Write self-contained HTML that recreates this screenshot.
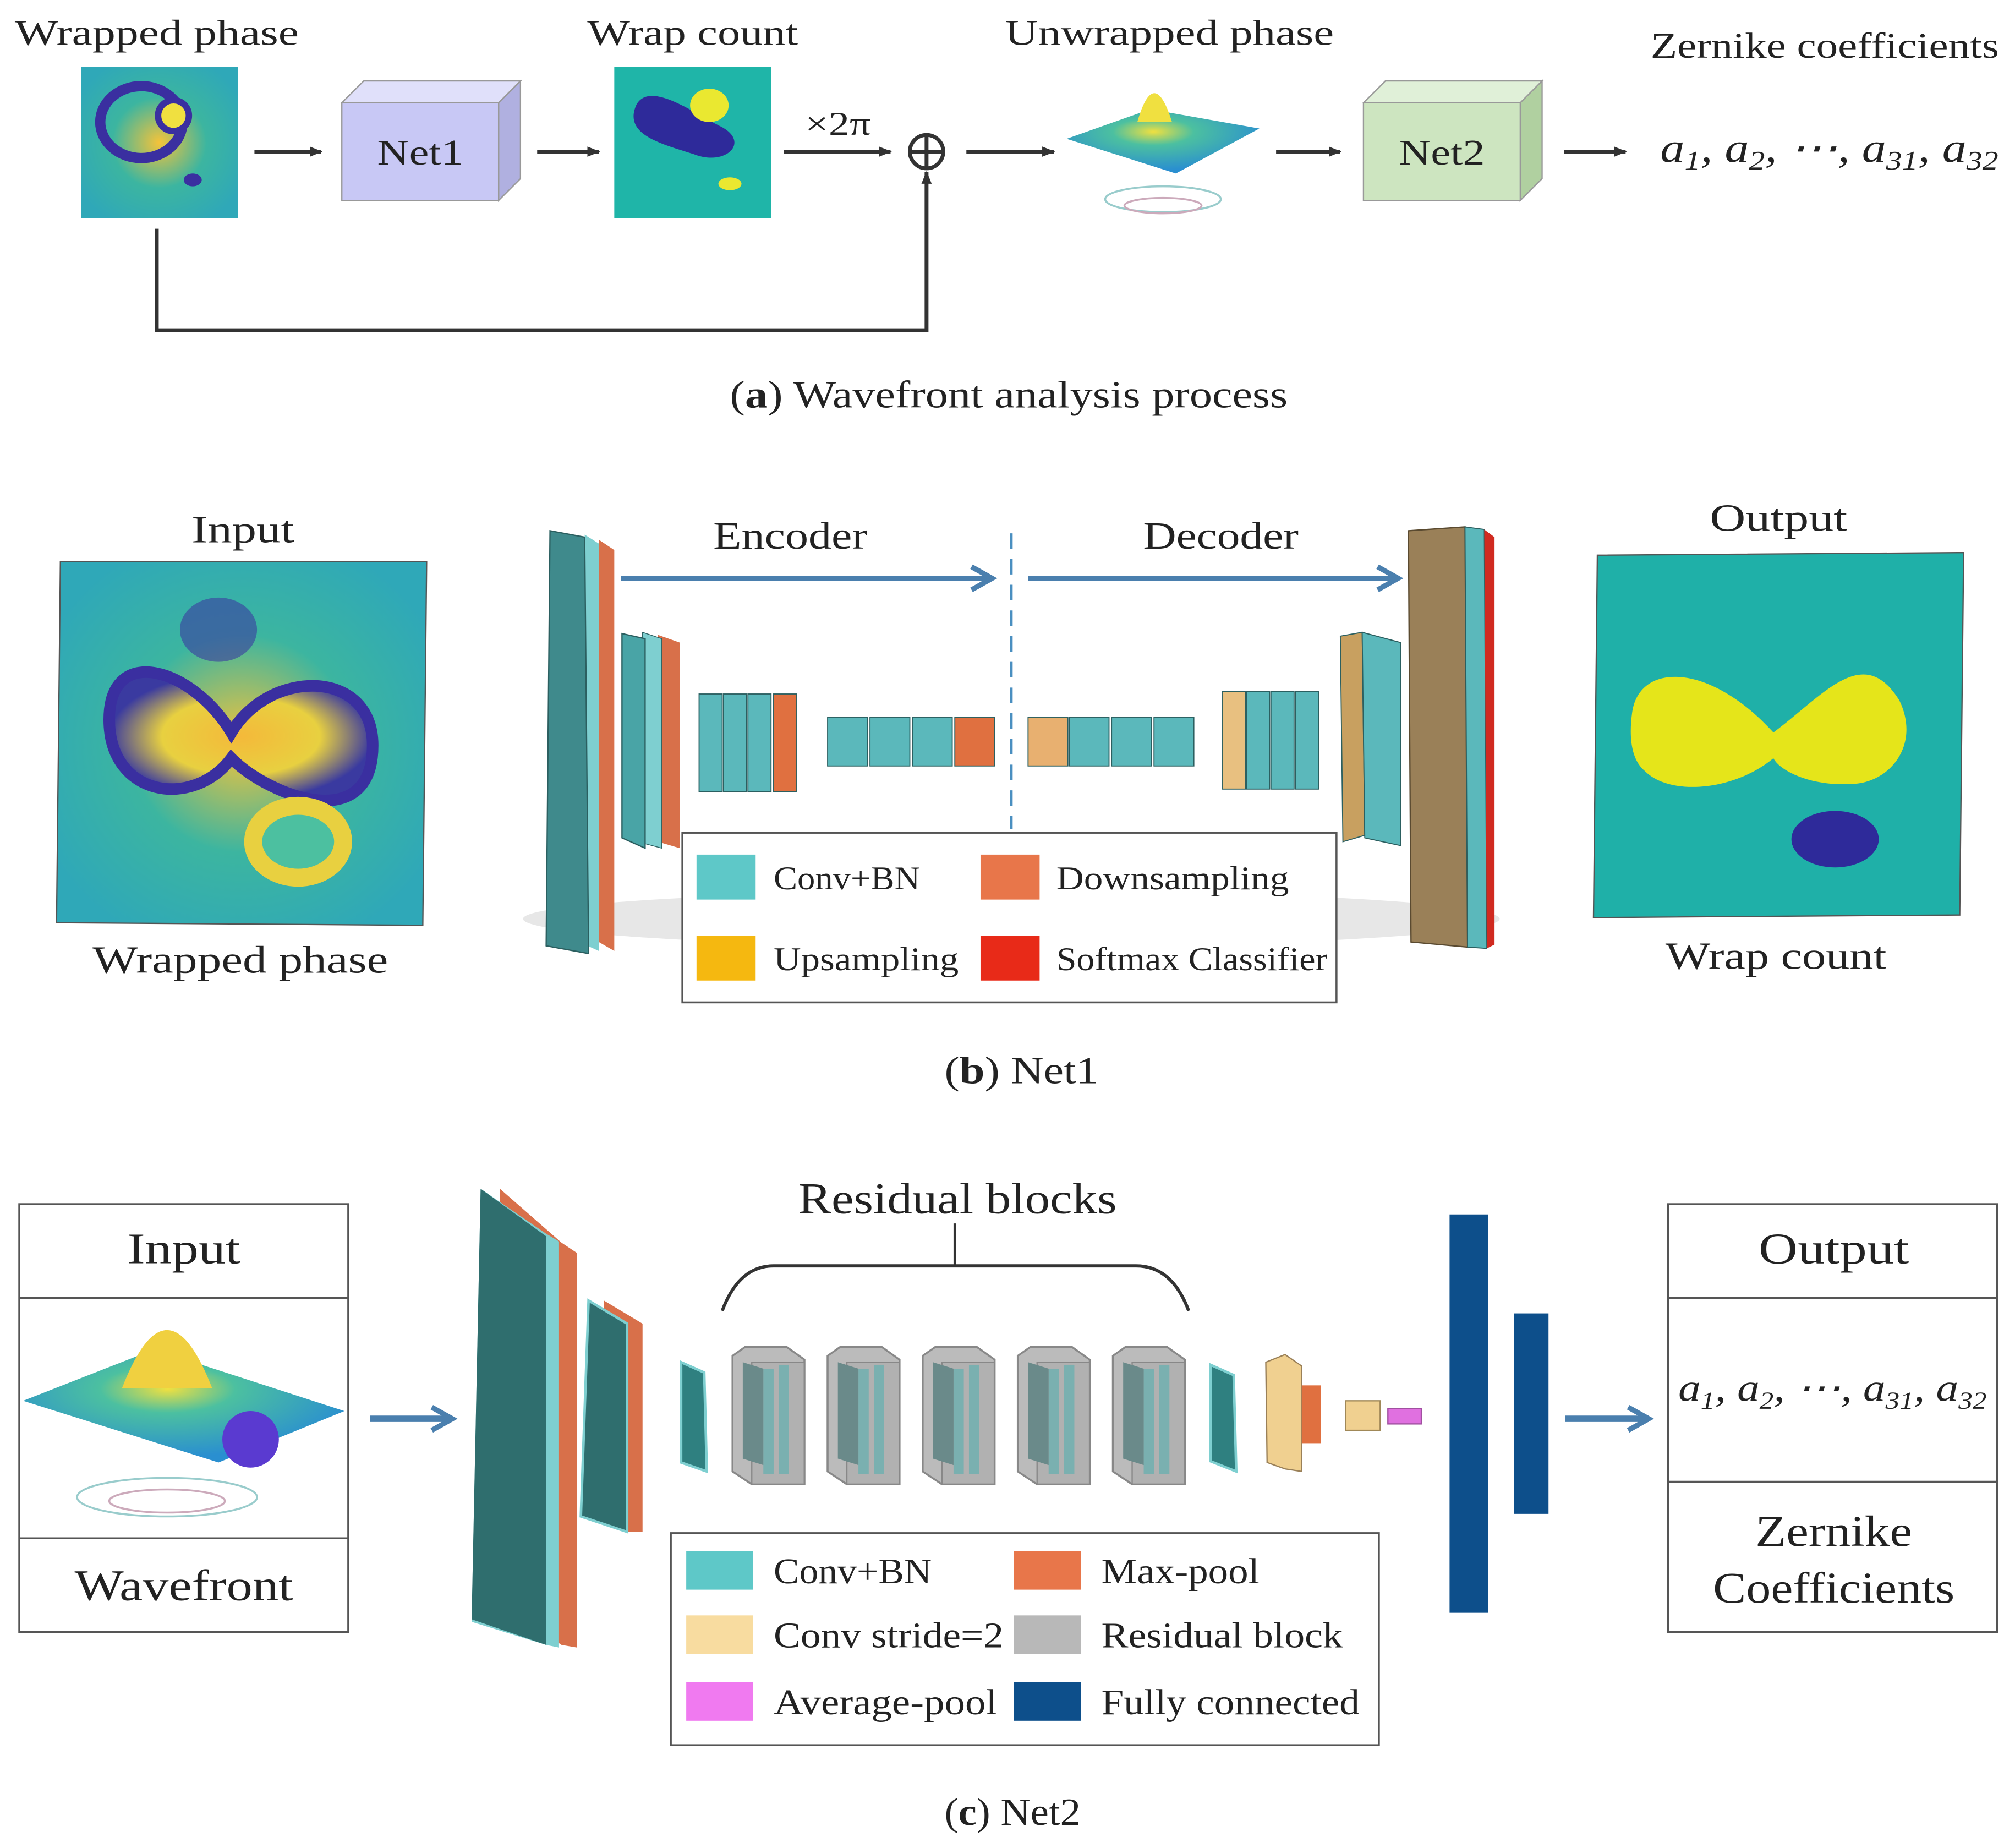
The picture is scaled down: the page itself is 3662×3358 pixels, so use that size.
<!DOCTYPE html>
<html><head><meta charset="utf-8"><style>
html,body{margin:0;padding:0;background:#fff}
svg{display:block}
text{font-family:"Liberation Serif",serif;fill:#222}
</style></head><body>
<svg width="3662" height="3358" viewBox="0 0 1568 1438" preserveAspectRatio="none" xmlns="http://www.w3.org/2000/svg">
<defs>
<marker id="ah" markerWidth="10" markerHeight="10" refX="9" refY="5" orient="auto" markerUnits="userSpaceOnUse"><path d="M0,1 L10,5 L0,9 z" fill="#333"/></marker>
<marker id="bh" markerWidth="22" markerHeight="22" refX="18" refY="11" orient="auto" markerUnits="userSpaceOnUse"><path d="M2,2 L18,11 L2,20" fill="none" stroke="#4a7fae" stroke-width="4"/></marker>
<radialGradient id="wp" cx="50%" cy="50%" r="60%"><stop offset="0" stop-color="#f5c33a"/><stop offset="0.5" stop-color="#3cb5a0"/><stop offset="1" stop-color="#2fa8b8"/></radialGradient>
<radialGradient id="surf" cx="45%" cy="35%" r="60%"><stop offset="0" stop-color="#f0e040"/><stop offset="0.35" stop-color="#4cc0a0"/><stop offset="1" stop-color="#2a8fd0"/></radialGradient>
<radialGradient id="yl" cx="50%" cy="50%" r="50%"><stop offset="0" stop-color="#f4b93a"/><stop offset="0.6" stop-color="#e8d040"/><stop offset="1" stop-color="#3a3aa0"/></radialGradient>
</defs>

<!-- (a) -->
<text x="122" y="35" font-size="28" text-anchor="middle" textLength="221" lengthAdjust="spacingAndGlyphs">Wrapped phase</text>
<rect x="63" y="52" width="122" height="118" fill="url(#wp)"/>
<ellipse cx="110" cy="95" rx="32" ry="28" fill="none" stroke="#3a2fa0" stroke-width="8"/>
<ellipse cx="135" cy="90" rx="12" ry="12" fill="#f0e040" stroke="#3a2fa0" stroke-width="5"/>
<ellipse cx="150" cy="140" rx="7" ry="5" fill="#3a2fa0"/>
<line x1="198" y1="118" x2="250" y2="118" stroke="#333" stroke-width="3" marker-end="url(#ah)"/>
<polygon points="266,80 283,63 405,63 388,80" fill="#e0e0fa" stroke="#999"/>
<polygon points="388,80 405,63 405,139 388,156" fill="#b0b0e0" stroke="#999"/>
<rect x="266" y="80" width="122" height="76" fill="#c8c8f5" stroke="#999"/>
<text x="327" y="128" font-size="28" text-anchor="middle" textLength="67" lengthAdjust="spacingAndGlyphs">Net1</text>
<line x1="418" y1="118" x2="466" y2="118" stroke="#333" stroke-width="3" marker-end="url(#ah)"/>
<text x="539" y="35" font-size="28" text-anchor="middle" textLength="164" lengthAdjust="spacingAndGlyphs">Wrap count</text>
<rect x="478" y="52" width="122" height="118" fill="#1fb5a8"/>
<path d="M495,82 C505,62 540,88 560,98 C585,110 565,130 540,120 C515,112 485,105 495,82z" fill="#2e2a9a"/>
<ellipse cx="552" cy="82" rx="15" ry="13" fill="#eae830"/>
<ellipse cx="568" cy="143" rx="9" ry="5" fill="#eae830"/>
<line x1="610" y1="118" x2="693" y2="118" stroke="#333" stroke-width="3" marker-end="url(#ah)"/>
<text x="652" y="105" font-size="26" text-anchor="middle" textLength="51" lengthAdjust="spacingAndGlyphs">×2π</text>
<circle cx="721" cy="118" r="13" fill="#fff" stroke="#333" stroke-width="3"/>
<line x1="708" y1="118" x2="734" y2="118" stroke="#333" stroke-width="3"/>
<line x1="721" y1="105" x2="721" y2="131" stroke="#333" stroke-width="3"/>
<polyline points="122,178 122,257 721,257 721,134" fill="none" stroke="#333" stroke-width="3" marker-end="url(#ah)"/>
<line x1="752" y1="118" x2="820" y2="118" stroke="#333" stroke-width="3" marker-end="url(#ah)"/>
<text x="910" y="35" font-size="28" text-anchor="middle" textLength="256" lengthAdjust="spacingAndGlyphs">Unwrapped phase</text>
<polygon points="830,108 895,85 980,100 915,135" fill="url(#surf)"/>
<path d="M885,95 Q898,50 912,95z" fill="#f0e040"/>
<ellipse cx="905" cy="155" rx="45" ry="10" fill="none" stroke="#9cc" stroke-width="1.5"/>
<ellipse cx="905" cy="160" rx="30" ry="6" fill="none" stroke="#cab" stroke-width="1.5"/>
<line x1="993" y1="118" x2="1043" y2="118" stroke="#333" stroke-width="3" marker-end="url(#ah)"/>
<polygon points="1061,80 1078,63 1200,63 1183,80" fill="#e0f0d8" stroke="#999"/>
<polygon points="1183,80 1200,63 1200,139 1183,156" fill="#b0d0a0" stroke="#999"/>
<rect x="1061" y="80" width="122" height="76" fill="#cde5c0" stroke="#999"/>
<text x="1122" y="128" font-size="28" text-anchor="middle" textLength="67" lengthAdjust="spacingAndGlyphs">Net2</text>
<line x1="1217" y1="118" x2="1265" y2="118" stroke="#333" stroke-width="3" marker-end="url(#ah)"/>
<text x="1420" y="45" font-size="28" text-anchor="middle" textLength="271" lengthAdjust="spacingAndGlyphs">Zernike coefficients</text>
<text x="1292" y="126" font-size="32" font-style="italic" textLength="263" lengthAdjust="spacingAndGlyphs">a<tspan font-size="21" dy="6">1</tspan><tspan dy="-6">, a</tspan><tspan font-size="21" dy="6">2</tspan><tspan dy="-6">, ⋯, a</tspan><tspan font-size="21" dy="6">31</tspan><tspan dy="-6">, a</tspan><tspan font-size="21" dy="6">32</tspan></text>
<text x="785" y="317" font-size="30" text-anchor="middle" textLength="434" lengthAdjust="spacingAndGlyphs">(<tspan font-weight="bold">a</tspan>) Wavefront analysis process</text>

<!-- (b) -->
<text x="189" y="422" font-size="30" text-anchor="middle" textLength="80" lengthAdjust="spacingAndGlyphs">Input</text>
<polygon points="47,437 332,437 329,720 44,718" fill="url(#wp)" stroke="#555"/>
<path d="M85,560 C85,500 150,520 180,570 C210,520 290,520 290,580 C290,650 210,620 180,590 C150,630 85,620 85,560z" fill="url(#yl)" stroke="#3a2fa0" stroke-width="9"/>
<ellipse cx="232" cy="655" rx="35" ry="28" fill="#4cc0a0" stroke="#e8d040" stroke-width="14"/>
<ellipse cx="170" cy="490" rx="30" ry="25" fill="#3a3aa0" opacity="0.6"/>
<text x="187" y="757" font-size="30" text-anchor="middle" textLength="230" lengthAdjust="spacingAndGlyphs">Wrapped phase</text>

<ellipse cx="787" cy="715" rx="380" ry="22" fill="#ddd" opacity="0.7"/>
<polygon points="466,420 478,428 478,740 466,733" fill="#d8704a"/>
<polygon points="455,416 466,423 466,740 455,735" fill="#7ecfd0"/>
<polygon points="428,413 455,418 458,742 425,736" fill="#3f8a8c" stroke="#2b5f60"/>
<polygon points="512,494 529,500 529,660 512,655" fill="#d8704a"/>
<polygon points="500,492 515,497 515,660 500,656" fill="#7ecfd0" stroke="#2b5f60" stroke-width="0.6"/>
<polygon points="484,493 502,497 502,660 484,652" fill="#49a4a6" stroke="#2b5f60"/>
<g stroke="#2b5f60" stroke-width="0.8">
<rect x="544" y="540" width="18" height="76" fill="#5bb8bb"/><rect x="563" y="540" width="18" height="76" fill="#5bb8bb"/><rect x="582" y="540" width="18" height="76" fill="#5bb8bb"/><rect x="602" y="540" width="18" height="76" fill="#e07040"/>
<rect x="644" y="558" width="31" height="38" fill="#5bb8bb"/><rect x="677" y="558" width="31" height="38" fill="#5bb8bb"/><rect x="710" y="558" width="31" height="38" fill="#5bb8bb"/><rect x="743" y="558" width="31" height="38" fill="#e07040"/>
<rect x="800" y="558" width="31" height="38" fill="#e8b070"/><rect x="832" y="558" width="31" height="38" fill="#5bb8bb"/><rect x="865" y="558" width="31" height="38" fill="#5bb8bb"/><rect x="898" y="558" width="31" height="38" fill="#5bb8bb"/>
<rect x="951" y="538" width="18" height="76" fill="#e8c080"/><rect x="970" y="538" width="18" height="76" fill="#5bb8bb"/><rect x="989" y="538" width="18" height="76" fill="#5bb8bb"/><rect x="1008" y="538" width="18" height="76" fill="#5bb8bb"/>
</g>
<polygon points="1043,495 1060,492 1062,650 1045,655" fill="#c8a060" stroke="#2b5f60" stroke-width="0.8"/>
<polygon points="1060,492 1090,500 1090,658 1062,652" fill="#5bb8bb" stroke="#2b5f60" stroke-width="0.8"/>
<polygon points="1096,413 1140,410 1142,737 1098,733" fill="#9a8058" stroke="#5a4a30"/>
<polygon points="1140,410 1155,412 1157,738 1142,737" fill="#5bb8bb" stroke="#2b5f60" stroke-width="0.8"/>
<polygon points="1155,412 1163,418 1163,735 1157,738" fill="#d02a20"/>
<line x1="483" y1="450" x2="772" y2="450" stroke="#4a7fae" stroke-width="4" marker-end="url(#bh)"/>
<line x1="800" y1="450" x2="1088" y2="450" stroke="#4a7fae" stroke-width="4" marker-end="url(#bh)"/>
<text x="615" y="427" font-size="30" text-anchor="middle" textLength="120" lengthAdjust="spacingAndGlyphs">Encoder</text>
<text x="950" y="427" font-size="30" text-anchor="middle" textLength="121" lengthAdjust="spacingAndGlyphs">Decoder</text>
<line x1="787" y1="415" x2="787" y2="645" stroke="#4a8fc0" stroke-width="2" stroke-dasharray="12,8"/>
<rect x="531" y="648" width="509" height="132" fill="#fff" stroke="#555" stroke-width="1.5"/>
<rect x="542" y="665" width="46" height="35" fill="#5ec8c8"/><text x="602" y="692" font-size="26" textLength="114" lengthAdjust="spacingAndGlyphs">Conv+BN</text>
<rect x="763" y="665" width="46" height="35" fill="#e8764a"/><text x="822" y="692" font-size="26" textLength="181" lengthAdjust="spacingAndGlyphs">Downsampling</text>
<rect x="542" y="728" width="46" height="35" fill="#f5b810"/><text x="602" y="755" font-size="26" textLength="144" lengthAdjust="spacingAndGlyphs">Upsampling</text>
<rect x="763" y="728" width="46" height="35" fill="#e82a18"/><text x="822" y="755" font-size="26" textLength="211" lengthAdjust="spacingAndGlyphs">Softmax Classifier</text>
<text x="1384" y="413" font-size="30" text-anchor="middle" textLength="107" lengthAdjust="spacingAndGlyphs">Output</text>
<polygon points="1243,432 1528,430 1525,712 1240,714" fill="#1fb0a8" stroke="#555"/>
<path d="M1270,555 C1275,515 1330,515 1380,570 C1420,540 1450,500 1478,545 C1495,580 1470,610 1440,610 C1410,612 1385,600 1380,590 C1350,615 1300,620 1280,600 C1268,590 1268,570 1270,555z" fill="#e5e51a"/>
<ellipse cx="1428" cy="653" rx="34" ry="22" fill="#2e2a9a"/>
<text x="1382" y="754" font-size="30" text-anchor="middle" textLength="172" lengthAdjust="spacingAndGlyphs">Wrap count</text>
<text x="795" y="843" font-size="30" text-anchor="middle" textLength="120" lengthAdjust="spacingAndGlyphs">(<tspan font-weight="bold">b</tspan>) Net1</text>

<!-- (c) -->
<rect x="15" y="937" width="256" height="333" fill="#fff" stroke="#555" stroke-width="1.5"/>
<line x1="15" y1="1010" x2="271" y2="1010" stroke="#555" stroke-width="1.5"/>
<line x1="15" y1="1197" x2="271" y2="1197" stroke="#555" stroke-width="1.5"/>
<text x="143" y="983" font-size="34" text-anchor="middle" textLength="88" lengthAdjust="spacingAndGlyphs">Input</text>
<text x="143" y="1245" font-size="34" text-anchor="middle" textLength="170" lengthAdjust="spacingAndGlyphs">Wavefront</text>
<polygon points="18,1090 120,1050 268,1098 170,1138" fill="url(#surf)"/>
<path d="M95,1080 Q130,990 165,1080z" fill="#f0d040"/>
<ellipse cx="195" cy="1120" rx="22" ry="22" fill="#5a3ad0"/>
<ellipse cx="130" cy="1165" rx="70" ry="15" fill="none" stroke="#9cc" stroke-width="1.5"/>
<ellipse cx="130" cy="1168" rx="45" ry="9" fill="none" stroke="#cab" stroke-width="1.5"/>
<line x1="288" y1="1104" x2="352" y2="1104" stroke="#4a7fae" stroke-width="5" marker-end="url(#bh)"/>
<polygon points="389,925 437,967 449,975 449,1282 437,1280 389,1247" fill="#d8704a"/>
<polygon points="374,925 425,960 435,966 435,1282 425,1280 367,1262" fill="#7ecfd0"/>
<polygon points="374,925 425,962 425,1280 367,1260" fill="#2f6e6e"/>
<polygon points="470,1012 500,1030 500,1192 488,1192 470,1182" fill="#d8704a"/>
<polygon points="458,1012 488,1030 488,1192 452,1180" fill="#2f6e6e" stroke="#7ecfd0" stroke-width="2"/>
<polygon points="530,1060 548,1068 550,1145 530,1138" fill="#2f8080" stroke="#7ecfd0" stroke-width="2"/>
<g>
<g id="rb"><polygon points="570,1055 580,1048 612,1048 626,1058 626,1155 585,1155 570,1145" fill="#bbb" stroke="#888" stroke-width="1.5"/><rect x="585" y="1060" width="41" height="95" fill="#aaa" fill-opacity="0.6" stroke="#888"/><rect x="594" y="1065" width="8" height="82" fill="#7ab0b0"/><rect x="606" y="1062" width="8" height="85" fill="#7ab0b0"/><polygon points="578,1060 594,1065 594,1140 578,1135" fill="#6a8a8a"/></g>
<use href="#rb" x="74"/><use href="#rb" x="148"/><use href="#rb" x="222"/><use href="#rb" x="296"/>
</g>
<polygon points="942,1062 960,1070 962,1145 942,1137" fill="#2f8080" stroke="#7ecfd0" stroke-width="2"/>
<polygon points="985,1060 1000,1054 1013,1063 1013,1145 1000,1143 986,1138" fill="#f0d090" stroke="#9a8058"/>
<rect x="1013" y="1078" width="15" height="45" fill="#e07040"/>
<rect x="1047" y="1090" width="27" height="23" fill="#f0d090" stroke="#a08858"/>
<rect x="1080" y="1096" width="26" height="12" fill="#e070e0" stroke="#a050a0"/>
<rect x="1128" y="945" width="30" height="310" fill="#0d4f8b"/>
<rect x="1178" y="1022" width="27" height="156" fill="#0d4f8b"/>
<text x="745" y="944" font-size="34" text-anchor="middle" textLength="248" lengthAdjust="spacingAndGlyphs">Residual blocks</text>
<line x1="743" y1="952" x2="743" y2="985" stroke="#333" stroke-width="2"/>
<path d="M562,1020 Q575,985 602,985 L884,985 Q912,985 925,1020" fill="none" stroke="#333" stroke-width="2.5"/>
<rect x="522" y="1193" width="551" height="165" fill="#fff" stroke="#555" stroke-width="1.5"/>
<rect x="534" y="1207" width="52" height="30" fill="#5ec8c8"/><text x="602" y="1232" font-size="28" textLength="123" lengthAdjust="spacingAndGlyphs">Conv+BN</text>
<rect x="789" y="1207" width="52" height="30" fill="#e8764a"/><text x="857" y="1232" font-size="28" textLength="123" lengthAdjust="spacingAndGlyphs">Max-pool</text>
<rect x="534" y="1257" width="52" height="30" fill="#f8dca0"/><text x="602" y="1282" font-size="28" textLength="179" lengthAdjust="spacingAndGlyphs">Conv stride=2</text>
<rect x="789" y="1257" width="52" height="30" fill="#b8b8b8"/><text x="857" y="1282" font-size="28" textLength="188" lengthAdjust="spacingAndGlyphs">Residual block</text>
<rect x="534" y="1309" width="52" height="30" fill="#f07af0"/><text x="602" y="1334" font-size="28" textLength="174" lengthAdjust="spacingAndGlyphs">Average-pool</text>
<rect x="789" y="1309" width="52" height="30" fill="#0d4f8b"/><text x="857" y="1334" font-size="28" textLength="201" lengthAdjust="spacingAndGlyphs">Fully connected</text>
<line x1="1218" y1="1104" x2="1283" y2="1104" stroke="#4a7fae" stroke-width="5" marker-end="url(#bh)"/>
<rect x="1298" y="937" width="256" height="333" fill="#fff" stroke="#555" stroke-width="1.5"/>
<line x1="1298" y1="1010" x2="1554" y2="1010" stroke="#555" stroke-width="1.5"/>
<line x1="1298" y1="1153" x2="1554" y2="1153" stroke="#555" stroke-width="1.5"/>
<text x="1427" y="983" font-size="34" text-anchor="middle" textLength="117" lengthAdjust="spacingAndGlyphs">Output</text>
<text x="1306" y="1090" font-size="30" font-style="italic" textLength="240" lengthAdjust="spacingAndGlyphs">a<tspan font-size="19" dy="6">1</tspan><tspan dy="-6">, a</tspan><tspan font-size="19" dy="6">2</tspan><tspan dy="-6">, ⋯, a</tspan><tspan font-size="19" dy="6">31</tspan><tspan dy="-6">, a</tspan><tspan font-size="19" dy="6">32</tspan></text>
<text x="1427" y="1203" font-size="34" text-anchor="middle" textLength="122" lengthAdjust="spacingAndGlyphs">Zernike</text>
<text x="1427" y="1247" font-size="34" text-anchor="middle" textLength="188" lengthAdjust="spacingAndGlyphs">Coefficients</text>
<text x="788" y="1420" font-size="30" text-anchor="middle" textLength="106" lengthAdjust="spacingAndGlyphs">(<tspan font-weight="bold">c</tspan>) Net2</text>
</svg>
</body></html>
